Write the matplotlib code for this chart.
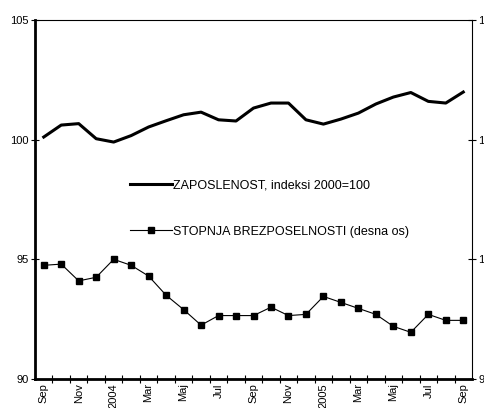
import numpy as np
import matplotlib.pyplot as plt

plt.rcParams['font.family'] = ['Liberation Sans', 'DejaVu Sans']

# Data: Sep 2003 .. Sep 2005, monthly
months = ["Sep", "Okt", "Nov", "Dec", "2004", "Feb", "Mar", "Apr", "Maj", "Jun",
          "Jul", "Avg", "Sep", "Okt", "Nov", "Dec", "2005", "Feb", "Mar", "Apr",
          "Maj", "Jun", "Jul", "Avg", "Sep"]
zaposlenost = [100.11, 100.61, 100.67, 100.04, 99.90, 100.17, 100.53, 100.79,
               101.04, 101.15, 100.83, 100.78, 101.32, 101.53, 101.53, 100.83,
               100.65, 100.86, 101.11, 101.49, 101.78, 101.97, 101.60, 101.53,
               101.99]
brezposelnost = [9.95, 9.96, 9.82, 9.85, 10.00, 9.95, 9.86, 9.70, 9.58, 9.45,
                 9.53, 9.53, 9.53, 9.60, 9.53, 9.54, 9.69, 9.64, 9.59, 9.54,
                 9.44, 9.39, 9.54, 9.49, 9.49]

x = np.arange(len(months))

fig = plt.figure(figsize=(4.84, 4.08), dpi=100)
ax = fig.add_axes([35/484, 1-379/408, 437/484, 359/408])
ax2 = ax.twinx()

l1, = ax.plot(x, zaposlenost, color='black', lw=2.2,
              label="ZAPOSLENOST, indeksi 2000=100")
l2, = ax2.plot(x, brezposelnost, color='black', lw=0.8, marker='s', ms=5,
               label="STOPNJA BREZPOSELNOSTI (desna os)")

ax.set_xlim(-0.5, len(months) - 0.5)
ax.set_ylim(90, 105)
ax.set_yticks([90, 95, 100, 105])
ax2.set_ylim(9, 12)
ax2.set_yticks([9, 10, 11, 12])

# category boundaries as tick marks, labels every second month
ax.set_xticks(np.arange(0.5, len(months) - 1, 1))
ax.set_xticklabels([])
ax.set_xticks(x[::2], minor=True)
ax.set_xticklabels(months[::2], minor=True, rotation=90, fontsize=8)
ax.tick_params(axis='x', which='major', direction='inout', length=6, width=0.8)
ax.tick_params(axis='x', which='minor', length=0, pad=3)
ax.tick_params(axis='y', direction='inout', length=6, width=0.8, labelsize=8, pad=1.5)
ax2.tick_params(axis='y', direction='inout', length=6, width=0.8, labelsize=8, pad=1.5)

ax.spines['left'].set_linewidth(2)
ax.spines['bottom'].set_linewidth(2)
ax.spines['top'].set_linewidth(0.8)
ax.spines['right'].set_visible(False)
ax2.spines['left'].set_visible(False)
ax2.spines['bottom'].set_visible(False)
ax2.spines['top'].set_visible(False)
ax2.spines['right'].set_linewidth(0.8)

ax.legend([l1, l2], [l1.get_label(), l2.get_label()], frameon=False,
          fontsize=9, loc='center left', bbox_to_anchor=(0.217, 0.475),
          borderpad=0, borderaxespad=0, handlelength=3.4, handletextpad=0.05,
          labelspacing=2.75)

fig.savefig("out.png", dpi=100)
